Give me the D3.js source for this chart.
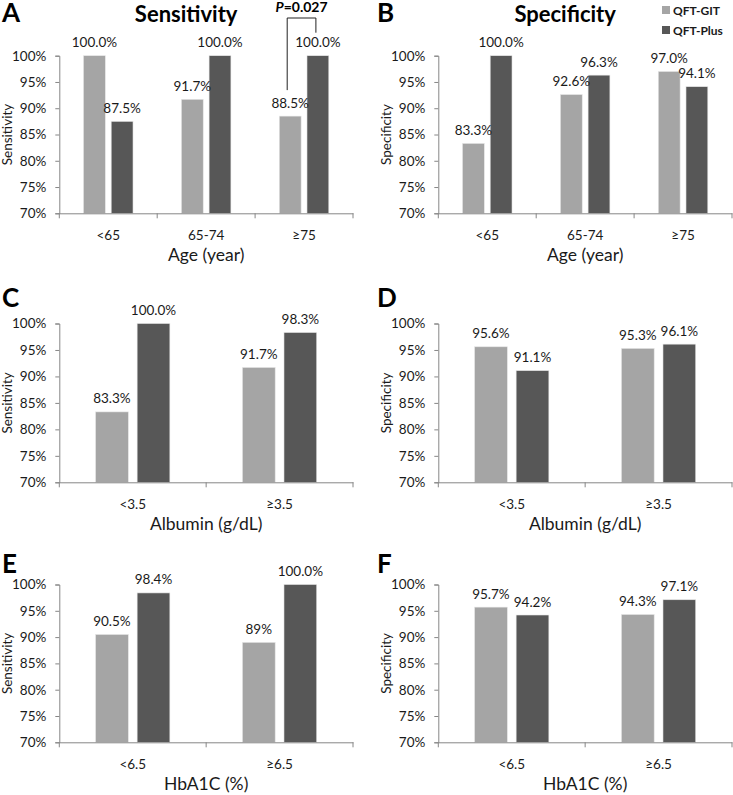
<!DOCTYPE html>
<html>
<head>
<meta charset="utf-8">
<script src="https://cdn.jsdelivr.net/npm/d3@7"></script>
<style>
  body { margin: 0; background: #fff; }
  svg { display: block; font-family: Lato, 'Open Sans', sans-serif; }
</style>
</head>
<body>
<svg id="chart" width="733" height="795"></svg>
<script>
// data (value labels kept as printed)
const series = ['QFT-GIT', 'QFT-Plus']
const ageGroups = ['<65', '65-74', '≥75']
const albuminGroups = ['<3.5', '≥3.5']
const hba1cGroups = ['<6.5', '≥6.5']
const yTicks = [70, 75, 80, 85, 90, 95, 100]

const sensAgeGit = ['100.0', '91.7', '88.5']
const sensAgePlus = ['87.5', '100.0', '100.0']
const specAgeGit = ['83.3', '92.6', '97.0']
const specAgePlus = ['100.0', '96.3', '94.1']
const sensAlbGit = ['83.3', '91.7']
const sensAlbPlus = ['100.0', '98.3']
const specAlbGit = ['95.6', '95.3']
const specAlbPlus = ['91.1', '96.1']
const sensHbGit = ['90.5', '89']
const sensHbPlus = ['98.4', '100.0']
const specHbGit = ['95.7', '94.3']
const specHbPlus = ['94.2', '97.1']

const colors = { 'QFT-GIT': '#a5a5a5', 'QFT-Plus': '#575757' }
const axisColor = '#868686'

const svg = d3.select('#chart')

const cols = [{ x0: 59.3, x1: 353, letterX: 2 }, { x0: 438.3, x1: 732, letterX: 377 }]
const rows = [{ top: 55.7, bottom: 213.3, letterY: 21.5 },
  { top: 323.5, bottom: 482.3, letterY: 306.5 },
  { top: 584.5, bottom: 742.3, letterY: 573 }]

const panels = [
  { letter: 'A', row: 0, col: 0, yLabel: 'Sensitivity', xLabel: 'Age (year)', title: 'Sensitivity', cats: ageGroups, git: sensAgeGit, plus: sensAgePlus },
  { letter: 'B', row: 0, col: 1, yLabel: 'Specificity', xLabel: 'Age (year)', title: 'Specificity', cats: ageGroups, git: specAgeGit, plus: specAgePlus },
  { letter: 'C', row: 1, col: 0, yLabel: 'Sensitivity', xLabel: 'Albumin (g/dL)', cats: albuminGroups, git: sensAlbGit, plus: sensAlbPlus },
  { letter: 'D', row: 1, col: 1, yLabel: 'Specificity', xLabel: 'Albumin (g/dL)', cats: albuminGroups, git: specAlbGit, plus: specAlbPlus },
  { letter: 'E', row: 2, col: 0, yLabel: 'Sensitivity', xLabel: 'HbA1C (%)', cats: hba1cGroups, git: sensHbGit, plus: sensHbPlus },
  { letter: 'F', row: 2, col: 1, yLabel: 'Specificity', xLabel: 'HbA1C (%)', cats: hba1cGroups, git: specHbGit, plus: specHbPlus }
]

/**
 * Draws one bar panel
 *
 * @param {*} p the panel description
 * @returns {*} the scales used
 */
function drawPanel (p) {
  const c = cols[p.col]
  const r = rows[p.row]
  const g = svg.append('g').attr('class', 'panel-' + p.letter)

  const x = d3.scaleBand().domain(p.cats).range([c.x0, c.x1]).padding(0)
  const y = d3.scaleLinear().domain([70, 100]).range([r.bottom, r.top])
  const bw = x.bandwidth()
  const x1 = d3.scaleBand().domain(series)
    .range([bw * 0.247, bw * 0.753]).paddingInner(0.212).paddingOuter(0)

  const rowsData = p.cats.map((cat, i) => ({
    cat,
    vals: [{ s: 'QFT-GIT', label: p.git[i], v: +p.git[i] }, { s: 'QFT-Plus', label: p.plus[i], v: +p.plus[i] }]
  }))

  // y axis
  const yAxis = g.append('g')
    .attr('transform', `translate(${c.x0},0)`)
    .call(d3.axisLeft(y).tickValues(yTicks).tickSize(4).tickPadding(9).tickFormat(d => d + '%'))
  yAxis.selectAll('path, line').attr('stroke', axisColor)
  yAxis.selectAll('text').attr('font-size', '13.5px').attr('fill', '#1a1a1a').attr('font-family', 'Lato, sans-serif')

  // bars
  const groups = g.selectAll('.grp').data(rowsData).enter().append('g')
    .attr('transform', d => `translate(${x(d.cat)},0)`)
  groups.selectAll('rect').data(d => d.vals).enter().append('rect')
    .attr('x', d => x1(d.s))
    .attr('y', d => y(d.v))
    .attr('width', x1.bandwidth())
    .attr('height', d => y(70) - y(d.v))
    .attr('fill', d => colors[d.s])
    .attr('stroke', '#e6e6e6')
    .attr('stroke-width', 0.6)
  groups.selectAll('text').data(d => d.vals).enter().append('text')
    .attr('x', d => x1(d.s) + x1.bandwidth() / 2)
    .attr('y', d => y(d.v) - 8.5)
    .attr('text-anchor', 'middle')
    .attr('font-size', '13.5px')
    .attr('fill', '#1a1a1a')
    .text(d => d.label + '%')

  // x axis
  const xAxis = g.append('g')
    .attr('transform', `translate(0,${r.bottom})`)
    .call(d3.axisBottom(x).tickSize(0).tickPadding(17))
  xAxis.select('.domain').attr('stroke', axisColor)
  xAxis.selectAll('text').attr('font-size', '13.5px').attr('fill', '#1a1a1a').attr('font-family', 'Lato, sans-serif')
  const bounds = p.cats.map(d => x(d)).concat([c.x1])
  g.selectAll('.xtick').data(bounds).enter().append('line')
    .attr('x1', d => d).attr('x2', d => d)
    .attr('y1', r.bottom).attr('y2', r.bottom + 5)
    .attr('stroke', axisColor)

  g.append('text')
    .attr('x', (c.x0 + c.x1) / 2)
    .attr('y', r.bottom + 47.5)
    .attr('text-anchor', 'middle')
    .attr('font-size', '17.5px')
    .attr('fill', '#1a1a1a')
    .text(p.xLabel)

  g.append('text')
    .attr('transform', `translate(${c.x0 - 47},${(r.top + r.bottom) / 2}) rotate(-90)`)
    .attr('text-anchor', 'middle')
    .attr('font-size', '13.5px')
    .attr('fill', '#1a1a1a')
    .text(p.yLabel)

  g.append('text')
    .attr('x', c.letterX)
    .attr('y', r.letterY)
    .attr('font-size', '26px')
    .attr('font-weight', 'bold')
    .attr('fill', '#000')
    .text(p.letter)

  if (p.title) {
    g.append('text')
      .attr('x', (c.x0 + c.x1) / 2 - 20)
      .attr('y', 21.5)
      .attr('text-anchor', 'middle')
      .attr('font-size', '22px')
      .attr('font-weight', 'bold')
      .attr('fill', '#000')
      .text(p.title)
  }
  return { x, x1, y }
}

const scales = panels.map(drawPanel)

// significance bracket on panel A, oldest group
const sA = scales[0]
const lastCat = ageGroups[2]
const bx1 = sA.x(lastCat) + sA.x1('QFT-GIT') + sA.x1.bandwidth() / 2 - 3
const bx2 = sA.x(lastCat) + sA.x1('QFT-Plus') + sA.x1.bandwidth() / 2 - 2
svg.append('path')
  .attr('d', `M${bx1},${sA.y(+sensAgeGit[2]) - 26}V18H${bx2}V${sA.y(+sensAgePlus[2]) - 23}`)
  .attr('fill', 'none')
  .attr('stroke', '#222')
  .attr('stroke-width', 1)
const pText = svg.append('text')
  .attr('x', (bx1 + bx2) / 2)
  .attr('y', 12)
  .attr('text-anchor', 'middle')
  .attr('font-size', '14px')
  .attr('font-weight', 'bold')
  .attr('fill', '#000')
pText.append('tspan').attr('font-style', 'italic').text('P')
pText.append('tspan').text('=0.027')

// legend
const legend = svg.append('g').attr('transform', 'translate(662,0)')
legend.selectAll('rect').data(series).enter().append('rect')
  .attr('x', 0)
  .attr('y', (d, i) => 6 + i * 20)
  .attr('width', 8)
  .attr('height', 8)
  .attr('fill', d => colors[d])
legend.selectAll('text').data(series).enter().append('text')
  .attr('x', 11)
  .attr('y', (d, i) => 15 + i * 20)
  .attr('font-size', '12px')
  .attr('font-weight', 'bold')
  .attr('fill', '#1a1a1a')
  .text(d => d)
</script>
</body>
</html>
